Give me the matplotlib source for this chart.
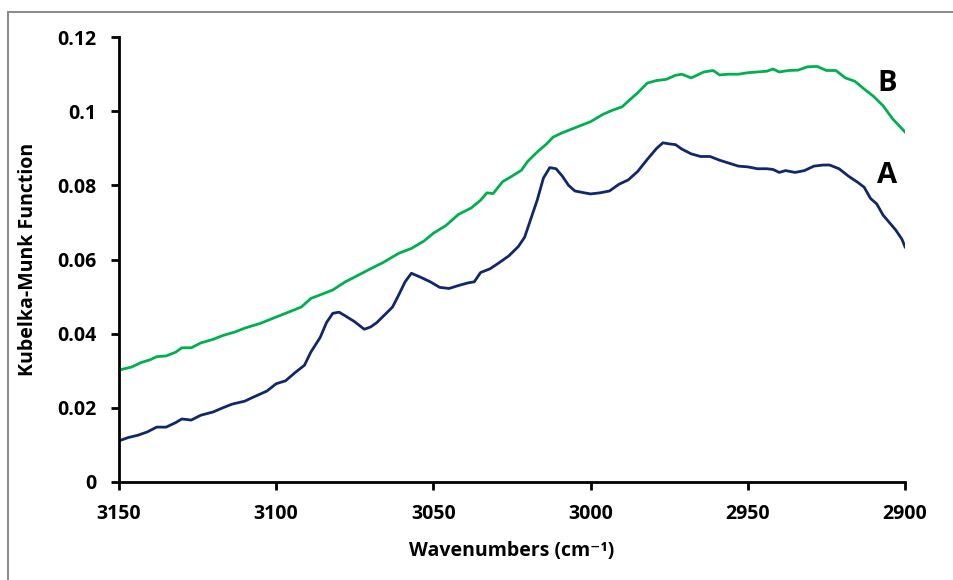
import matplotlib
matplotlib.use('Agg')
import matplotlib.pyplot as plt
from matplotlib.patches import Rectangle

plt.rcParams['font.family'] = ['Open Sans', 'DejaVu Sans']

# Spectrum B (upper, green)
wn_b = [3150, 3146, 3143, 3140, 3138, 3135, 3132, 3130, 3127, 3124, 3120, 3117,
        3113, 3110, 3105, 3100, 3097, 3092, 3089, 3085, 3082, 3078, 3075, 3070,
        3066, 3061, 3057, 3053, 3050, 3046, 3042, 3038, 3035, 3033, 3031, 3028,
        3025, 3022, 3020, 3017, 3014, 3012, 3009, 3006, 3003, 3000, 2996, 2993,
        2990, 2987, 2985, 2982, 2979, 2976, 2973, 2971, 2968, 2966, 2964, 2961,
        2959, 2956, 2953, 2950, 2947, 2944, 2942, 2940, 2937, 2934, 2931, 2928,
        2925, 2922, 2919, 2916, 2913, 2910, 2907, 2904, 2902, 2900]
km_b = [0.0302, 0.0310, 0.0322, 0.0330, 0.0338, 0.0340, 0.0350, 0.0362, 0.0362,
        0.0375, 0.0385, 0.0395, 0.0405, 0.0415, 0.0428, 0.0445, 0.0455, 0.0472,
        0.0495, 0.0508, 0.0518, 0.0540, 0.0553, 0.0575, 0.0592, 0.0617, 0.0630,
        0.0650, 0.0671, 0.0692, 0.0722, 0.0739, 0.0760, 0.0780, 0.0778, 0.0810,
        0.0825, 0.0841, 0.0865, 0.0890, 0.0912, 0.0930, 0.0942, 0.0952, 0.0962,
        0.0972, 0.0992, 0.1003, 0.1012, 0.1035, 0.1050, 0.1076, 0.1083, 0.1086,
        0.1097, 0.1100, 0.1090, 0.1098, 0.1106, 0.1110, 0.1098, 0.1100, 0.1100,
        0.1104, 0.1106, 0.1108, 0.1114, 0.1106, 0.1110, 0.1111, 0.1120, 0.1121,
        0.1110, 0.1110, 0.1090, 0.1081, 0.1060, 0.1040, 0.1015, 0.0980, 0.0962,
        0.0944]

# Spectrum A (lower, navy)
wn_a = [3150, 3147, 3144, 3141, 3138, 3135, 3132, 3130, 3127, 3124, 3120, 3117,
        3114, 3110, 3107, 3103, 3100, 3097, 3094, 3091, 3089, 3086, 3084, 3082,
        3080, 3078, 3075, 3072, 3070, 3068, 3065, 3063, 3061, 3059, 3057, 3054,
        3051, 3048, 3045, 3042, 3039, 3037, 3035, 3032, 3029, 3026, 3023, 3021,
        3019, 3017, 3015, 3013, 3011, 3009, 3007, 3005, 3002, 3000, 2997, 2994,
        2991, 2988, 2985, 2982, 2979, 2977, 2975, 2973, 2971, 2968, 2965, 2962,
        2959, 2956, 2953, 2950, 2947, 2944, 2942, 2940, 2938, 2935, 2932, 2929,
        2926, 2924, 2921, 2918, 2915, 2913, 2911, 2909, 2907, 2905, 2903, 2901,
        2900]
km_a = [0.0111, 0.0120, 0.0126, 0.0135, 0.0148, 0.0148, 0.0160, 0.0170, 0.0167,
        0.0180, 0.0189, 0.0200, 0.0210, 0.0218, 0.0230, 0.0245, 0.0265, 0.0273,
        0.0295, 0.0315, 0.0350, 0.0390, 0.0430, 0.0455, 0.0458, 0.0448, 0.0432,
        0.0412, 0.0418, 0.0430, 0.0455, 0.0472, 0.0505, 0.0540, 0.0563, 0.0552,
        0.0540, 0.0525, 0.0522, 0.0530, 0.0537, 0.0540, 0.0565, 0.0575, 0.0592,
        0.0610, 0.0635, 0.0660, 0.0710, 0.0760, 0.0820, 0.0848, 0.0845, 0.0825,
        0.0800, 0.0785, 0.0780, 0.0777, 0.0780, 0.0785, 0.0803, 0.0815, 0.0838,
        0.0870, 0.0900, 0.0915, 0.0912, 0.0910, 0.0898, 0.0885, 0.0878, 0.0878,
        0.0868, 0.0860, 0.0852, 0.0850, 0.0845, 0.0845, 0.0843, 0.0835, 0.0840,
        0.0835, 0.0840, 0.0852, 0.0855, 0.0855, 0.0845, 0.0825, 0.0808, 0.0795,
        0.0765, 0.0750, 0.0720, 0.0700, 0.0680, 0.0655, 0.0634]

x_ticks = [3150, 3100, 3050, 3000, 2950, 2900]
y_ticks = [0, 0.02, 0.04, 0.06, 0.08, 0.1, 0.12]
y_tick_labels = ['0', '0.02', '0.04', '0.06', '0.08', '0.1', '0.12']

GREEN = '#00B050'
NAVY = '#10286A'

fig = plt.figure(figsize=(9.54, 5.8), dpi=100)
ax = fig.add_axes([0.1247, 0.169, 0.824, 0.767])

# thin grey frame around the chart area
fig.patches.append(Rectangle((8 / 954, -0.1), 1.2, 1.1 - 12 / 580,
                             transform=fig.transFigure, fill=False,
                             edgecolor='#8C8C8C', linewidth=1.5))

ax.plot(wn_b, km_b, color=GREEN, lw=2.0, solid_joinstyle='round')
ax.plot(wn_a, km_a, color=NAVY, lw=2.0, solid_joinstyle='round')

ax.text(2905.7, 0.1076, 'B', fontsize=21, fontweight='bold', ha='center', va='center')
ax.text(2905.7, 0.0828, 'A', fontsize=21, fontweight='bold', ha='center', va='center')

ax.set_xlim(3150, 2900)
ax.set_ylim(0, 0.12)
ax.set_xticks(x_ticks)
ax.set_xticklabels([str(t) for t in x_ticks])
ax.set_yticks(y_ticks)
ax.set_yticklabels(y_tick_labels)

for side in ('top', 'right'):
    ax.spines[side].set_visible(False)
for side in ('left', 'bottom'):
    ax.spines[side].set_linewidth(2)
ax.tick_params(width=2, length=6, direction='out', labelsize=14)
ax.tick_params(axis='x', pad=10)
ax.tick_params(axis='y', pad=10)
for lbl in ax.get_xticklabels() + ax.get_yticklabels():
    lbl.set_fontweight('bold')

ax.set_xlabel('Wavenumbers (cm\u207b\u00b9)', fontsize=14, fontweight='bold', labelpad=12)
ax.set_ylabel('Kubelka-Munk Function', fontsize=14, fontweight='bold', labelpad=14)

fig.savefig('out.png', dpi=100, facecolor='white')
